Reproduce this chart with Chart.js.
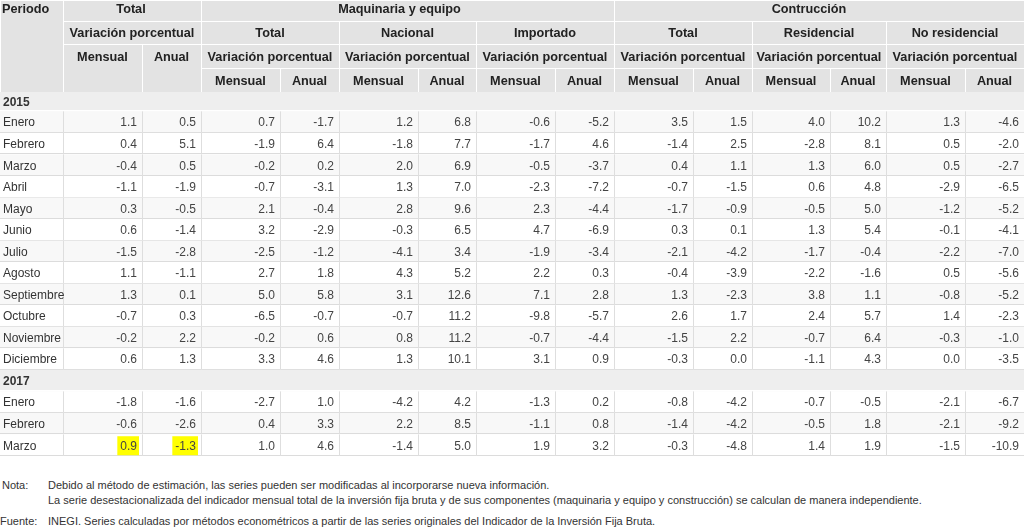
<!DOCTYPE html>
<html lang="es">
<head>
<meta charset="utf-8">
<title>Inversión fija bruta — variación porcentual</title>
<script src="https://cdn.jsdelivr.net/npm/chart.js@4.4.1/dist/chart.umd.min.js"></script>
<style>
  html,body{margin:0;padding:0;background:#fff}
  #wrap{position:relative;width:1024px;height:529px;overflow:hidden}
  #box{position:absolute;left:0;top:0;width:1024px;height:470px}
  .notes{position:absolute;left:0;top:478px;font:11px 'Liberation Sans',Arial,sans-serif;color:#333;line-height:15px}
  .notes .r{display:flex}
  .notes .l{width:48px;flex-shrink:0;padding-left:2px;box-sizing:border-box}
  .notes .f{margin-top:6px}
</style>
</head>
<body>
<div id="wrap">
  <div id="box"><canvas id="c-tabla"></canvas></div>
  <div class="notes">
    <div class="r"><div class="l">Nota:</div><div>Debido al método de estimación, las series pueden ser modificadas al incorporarse nueva información.<br>La serie desestacionalizada del indicador mensual total de la inversión fija bruta y de sus componentes (maquinaria y equipo y construcción) se calculan de manera independiente.</div></div>
    <div class="r f"><div class="l" style="padding-left:0">Fuente:</div><div>INEGI. Series calculadas por métodos econométricos a partir de las series originales del Indicador de la Inversión Fija Bruta.</div></div>
  </div>
</div>
<script>
// ── Datos ──────────────────────────────────────
const periodos = ['2015','Enero','Febrero','Marzo','Abril','Mayo','Junio','Julio','Agosto','Septiembre','Octubre','Noviembre','Diciembre',
                  '2017','Enero','Febrero','Marzo'];

const grupos    = ['Total','Maquinaria y equipo','Contrucción'];
const subgrupos = ['Total','Nacional','Importado','Total','Residencial','No residencial'];
const varLabel  = 'Variación porcentual';
const hojas     = ['Mensual','Anual'];

// null = fila de año
const totMen  = [null, 1.1, 0.4,-0.4,-1.1, 0.3, 0.6,-1.5, 1.1, 1.3,-0.7,-0.2, 0.6, null,-1.8,-0.6, 0.9];
const totAnu  = [null, 0.5, 5.1, 0.5,-1.9,-0.5,-1.4,-2.8,-1.1, 0.1, 0.3, 2.2, 1.3, null,-1.6,-2.6,-1.3];
const maqMen  = [null, 0.7,-1.9,-0.2,-0.7, 2.1, 3.2,-2.5, 2.7, 5.0,-6.5,-0.2, 3.3, null,-2.7, 0.4, 1.0];
const maqAnu  = [null,-1.7, 6.4, 0.2,-3.1,-0.4,-2.9,-1.2, 1.8, 5.8,-0.7, 0.6, 4.6, null, 1.0, 3.3, 4.6];
const nacMen  = [null, 1.2,-1.8, 2.0, 1.3, 2.8,-0.3,-4.1, 4.3, 3.1,-0.7, 0.8, 1.3, null,-4.2, 2.2,-1.4];
const nacAnu  = [null, 6.8, 7.7, 6.9, 7.0, 9.6, 6.5, 3.4, 5.2,12.6,11.2,11.2,10.1, null, 4.2, 8.5, 5.0];
const impMen  = [null,-0.6,-1.7,-0.5,-2.3, 2.3, 4.7,-1.9, 2.2, 7.1,-9.8,-0.7, 3.1, null,-1.3,-1.1, 1.9];
const impAnu  = [null,-5.2, 4.6,-3.7,-7.2,-4.4,-6.9,-3.4, 0.3, 2.8,-5.7,-4.4, 0.9, null, 0.2, 0.8, 3.2];
const conMen  = [null, 3.5,-1.4, 0.4,-0.7,-1.7, 0.3,-2.1,-0.4, 1.3, 2.6,-1.5,-0.3, null,-0.8,-1.4,-0.3];
const conAnu  = [null, 1.5, 2.5, 1.1,-1.5,-0.9, 0.1,-4.2,-3.9,-2.3, 1.7, 2.2, 0.0, null,-4.2,-4.2,-4.8];
const resMen  = [null, 4.0,-2.8, 1.3, 0.6,-0.5, 1.3,-1.7,-2.2, 3.8, 2.4,-0.7,-1.1, null,-0.7,-0.5, 1.4];
const resAnu  = [null,10.2, 8.1, 6.0, 4.8, 5.0, 5.4,-0.4,-1.6, 1.1, 5.7, 6.4, 4.3, null,-0.5, 1.8, 1.9];
const nresMen = [null, 1.3, 0.5, 0.5,-2.9,-1.2,-0.1,-2.2, 0.5,-0.8, 1.4,-0.3, 0.0, null,-2.1,-2.1,-1.5];
const nresAnu = [null,-4.6,-2.0,-2.7,-6.5,-5.2,-4.1,-7.0,-5.6,-5.2,-2.3,-1.0,-3.5, null,-6.7,-9.2,-10.9];

const series = [totMen,totAnu,maqMen,maqAnu,nacMen,nacAnu,impMen,impAnu,conMen,conAnu,resMen,resAnu,nresMen,nresAnu];

// celdas resaltadas en amarillo (fila, columna de serie)
const resaltados = [[16,0],[16,1]];

// ── Maquetación ────────────────────────────────
// bordes de columna en unidades de la escala x
const colEdges = [0,63,142,201,280,339,418,476,555,614,693,752,830,886,965,1024];
const hdrY  = [0,21,44,68,92];
const hdrTy = [9,33,57,81];      // centro del texto por fila de encabezado
const FONT = "'Liberation Sans', Arial, sans-serif";

function hdrCells(){
  const cells = [{c0:0,c1:1,r0:0,r1:4,t:'Periodo',left:true}];
  // fila 1: grupos (el original no los centra del todo)
  [[1,3,-1],[3,9,-8],[9,15,-10]].forEach((s,i)=>cells.push({c0:s[0],c1:s[1],r0:0,r1:1,t:grupos[i],dx:s[2]}));
  // fila 2
  cells.push({c0:1,c1:3,r0:1,r1:2,t:varLabel});
  subgrupos.forEach((t,i)=>cells.push({c0:3+i*2,c1:5+i*2,r0:1,r1:2,t}));
  // fila 3
  cells.push({c0:1,c1:2,r0:2,r1:4,t:hojas[0]},{c0:2,c1:3,r0:2,r1:4,t:hojas[1]});
  subgrupos.forEach((_,i)=>cells.push({c0:3+i*2,c1:5+i*2,r0:2,r1:3,t:varLabel}));
  // fila 4
  for(let c=3;c<15;c++) cells.push({c0:c,c1:c+1,r0:3,r1:4,t:hojas[(c-3)%2]});
  return cells;
}

const tablaPlugin = {
  id:'tabla',
  beforeDatasetsDraw(chart){
    const {ctx, chartArea, scales:{x, y}} = chart;
    const ex = colEdges.map(v=>x.getPixelForValue(v));
    const W = ex[ex.length-1];
    ctx.save();

    // encabezado
    ctx.fillStyle = '#e3e3e3';
    ctx.fillRect(0,0,W,hdrY[4]);
    ctx.strokeStyle = '#fff';
    ctx.lineWidth = 1;
    ctx.font = 'bold 12.7px '+FONT;
    ctx.textBaseline = 'middle';
    hdrCells().forEach(c=>{
      const x0 = ex[c.c0], x1 = ex[c.c1], y0 = hdrY[c.r0], y1 = hdrY[c.r1];
      ctx.strokeRect(x0+0.5, y0+0.5, x1-x0, y1-y0);
      ctx.fillStyle = '#222';
      const ty = hdrTy[c.r0];
      if(c.left){ ctx.textAlign='left'; ctx.fillText(c.t, x0+2, ty); }
      else { ctx.textAlign='center'; ctx.fillText(c.t, (x0+x1)/2+(c.dx||0), ty); }
    });

    // filas
    periodos.forEach((p,i)=>{
      const top = Math.max(chartArea.top, y.getPixelForValue(i-0.5)), bot = y.getPixelForValue(i+0.5);
      const esAnio = /^\d{4}$/.test(p);
      ctx.fillStyle = esAnio ? '#eeeeee' : (i%2 ? '#f8f8f8' : '#ffffff');
      ctx.fillRect(0, top, W, bot-top);
      ctx.strokeStyle = esAnio ? '#ffffff' : '#dcdcdc';
      ctx.beginPath();
      ctx.moveTo(0, Math.round(bot)-0.5); ctx.lineTo(W, Math.round(bot)-0.5);
      ctx.stroke();
      if(!esAnio){
        ctx.strokeStyle = '#dedede';
        ctx.beginPath();
        ex.slice(1,-1).forEach(e=>{ ctx.moveTo(Math.round(e)+0.5, top); ctx.lineTo(Math.round(e)+0.5, bot); });
        ctx.stroke();
      }
      ctx.textAlign = 'left';
      ctx.font = (esAnio ? 'bold ' : '')+'12px '+FONT;
      ctx.fillStyle = '#333';
      ctx.fillText(p, 3, (top+bot)/2+1);
    });
    ctx.restore();
  },
  afterDatasetsDraw(chart){
    const {ctx} = chart;
    ctx.save();
    ctx.font = '12px '+FONT;
    ctx.textAlign = 'right';
    ctx.textBaseline = 'middle';
    chart.data.datasets.forEach((ds,di)=>{
      const meta = chart.getDatasetMeta(di);
      meta.data.forEach((el,j)=>{
        const d = ds.data[j];
        const txt = d.v.toFixed(1);
        const tx = el.x-5, ty = el.y+1;
        if(resaltados.some(r=>r[0]===d.y && r[1]===di)){
          const w = ctx.measureText(txt).width;
          ctx.fillStyle = '#ffff00';
          ctx.fillRect(tx-w-3, ty-10, w+5, 19);
        }
        ctx.fillStyle = '#444';
        ctx.fillText(txt, tx, ty);
      });
    });
    ctx.restore();
  }
};

const datasets = series.map((s,k)=>({
  label: 'col'+k,
  data: s.map((v,i)=>({x: colEdges[k+2], y: i, v})).filter(d=>d.v!==null),
  pointRadius: 0,
  pointHoverRadius: 0,
  showLine: false
}));

new Chart(document.getElementById('c-tabla'), {
  type:'scatter',
  data:{datasets},
  options:{
    responsive:true,
    maintainAspectRatio:false,
    animation:false,
    events:[],
    layout:{padding:{top:92,bottom:14,left:0,right:0}},
    plugins:{legend:{display:false},tooltip:{enabled:false}},
    scales:{
      x:{type:'linear',min:0,max:1024,display:false},
      // la fila 2015 es algo más baja que las demás
      y:{type:'linear',min:-0.4,max:periodos.length-0.5,reverse:true,display:false}
    }
  },
  plugins:[tablaPlugin]
});
</script>
</body>
</html>
